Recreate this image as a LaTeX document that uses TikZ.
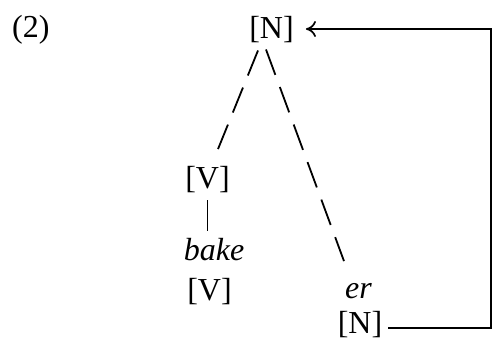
\documentclass[tikz,border=0pt]{standalone}
\usepackage{fontspec}
\setmainfont{Liberation Serif}
\usetikzlibrary{arrows.meta,calc}
\begin{document}
\begin{tikzpicture}[x=1pt,y=-1pt,
  lbl/.style={font=\fontsize{32}{38}\selectfont, inner sep=2pt, anchor=base},
  dashline/.style={line width=1.8pt, dash pattern=on 27pt off 13pt},
  solidline/.style={line width=1.7pt},
  tip/.style={-{To[length=10pt,width=16pt]}},
]
\useasboundingbox (0,0) rectangle (492,338);
\node[lbl, anchor=base west] (ex) at (10,37) {(2)};
\node[lbl] (Nt) at (271.5,38) {[N]};
\node[lbl] (Vm) at (207.5,188) {[V]};
\node[lbl] (bake) at (214,260) {\itshape bake};
\node[lbl] (Vb) at (209.5,300) {[V]};
\node[lbl] (er) at (358.5,298) {\itshape er};
\node[lbl] (Nb) at (360,333) {[N]};
\coordinate (cb) at (491,328);
\coordinate (ct) at (491,29);
% dashed branches
\draw[dashline] ($(Nt.south)+(-13.5,6)$) -- ($(Vm.north)+(10.5,-14.5)$);
\draw[dashline] ($(Nt.south)+(-5.5,5)$) -- ($(er.north)+(-14.5,-19.6)$);
% solid branch
\draw[solidline, shorten <=6pt, shorten >=5pt] (Vm.south) -- (Vm.south |- bake.north);
% connector
\draw[solidline, tip, shorten <=4pt, shorten >=10pt] (Nb.east |- cb) -- (cb) -- (ct) -- (ct -| Nt.east);
\end{tikzpicture}
\end{document}
